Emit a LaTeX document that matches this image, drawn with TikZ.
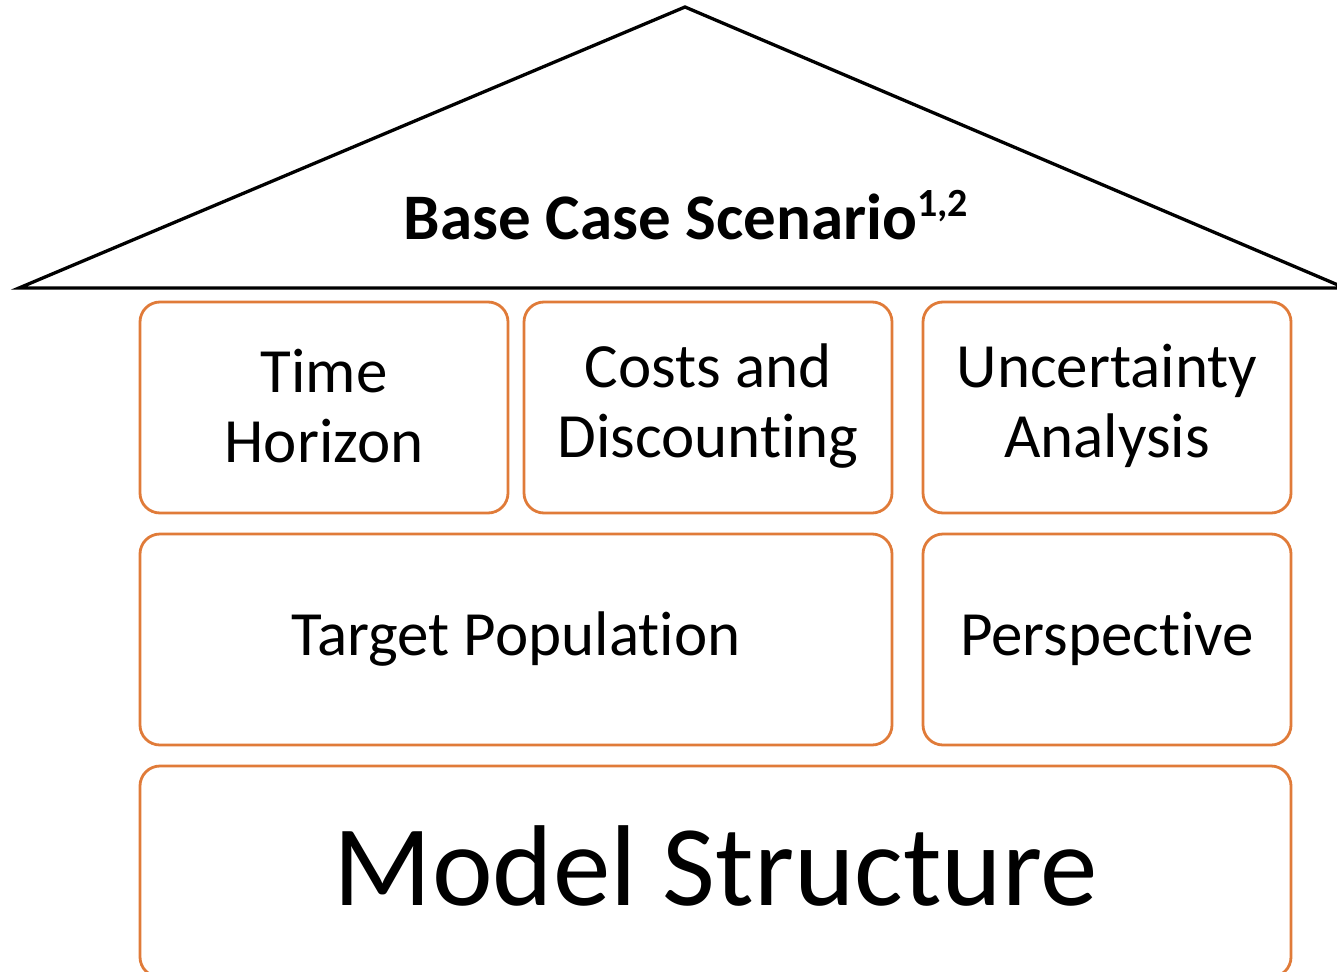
\documentclass[tikz,border=0pt]{standalone}
\usepackage{fontspec}
\setmainfont[RawFeature={-liga}]{Carlito}
\definecolor{boxorange}{HTML}{E07B39}
\begin{document}
\begin{tikzpicture}[x=1pt,y=-1pt,
  pillar/.style={draw=boxorange,line width=2.8pt,rounded corners=20pt,fill=white},
  lbl/.style={align=center,font=\fontsize{63}{70}\selectfont,inner sep=0pt}]
\useasboundingbox (0,0) rectangle (1337,971);
\clip (0,0) rectangle (1337,971);
% roof
\coordinate (rl) at (19,288);
\coordinate (apex) at (685,7);
\coordinate (rr) at (1345,288);
\draw[line width=3.3pt,line join=miter] (rl) -- (apex) -- (rr) -- cycle;
\node[font=\bfseries\fontsize{65}{70}\selectfont,inner sep=0pt] (roof) at (686,215) {Base Case Scenario\raisebox{0.36em}{\fontsize{40}{40}\selectfont 1,2}};
% boxes
\draw[pillar] (140,302) rectangle (508,513);
\node[lbl] (th) at (324,406) {Time\\Horizon};
\draw[pillar] (524,302) rectangle (892,513);
\node[lbl] (cd) at (708,406) {Costs and\\Discounting};
\draw[pillar] (923,302) rectangle (1291,513);
\node[lbl] (ua) at (1107,406) {Uncertainty\\Analysis};
\draw[pillar] (140,534) rectangle (892,745);
\node[lbl] (tp) at (516,639) {Target Population};
\draw[pillar] (923,534) rectangle (1291,745);
\node[lbl] (ps) at (1107,639) {Perspective};
\draw[pillar] (140,766) rectangle (1291,977);
\node[lbl,font=\fontsize{115}{120}\selectfont] (ms) at (716,866) {Model Structure};
\end{tikzpicture}
\end{document}
